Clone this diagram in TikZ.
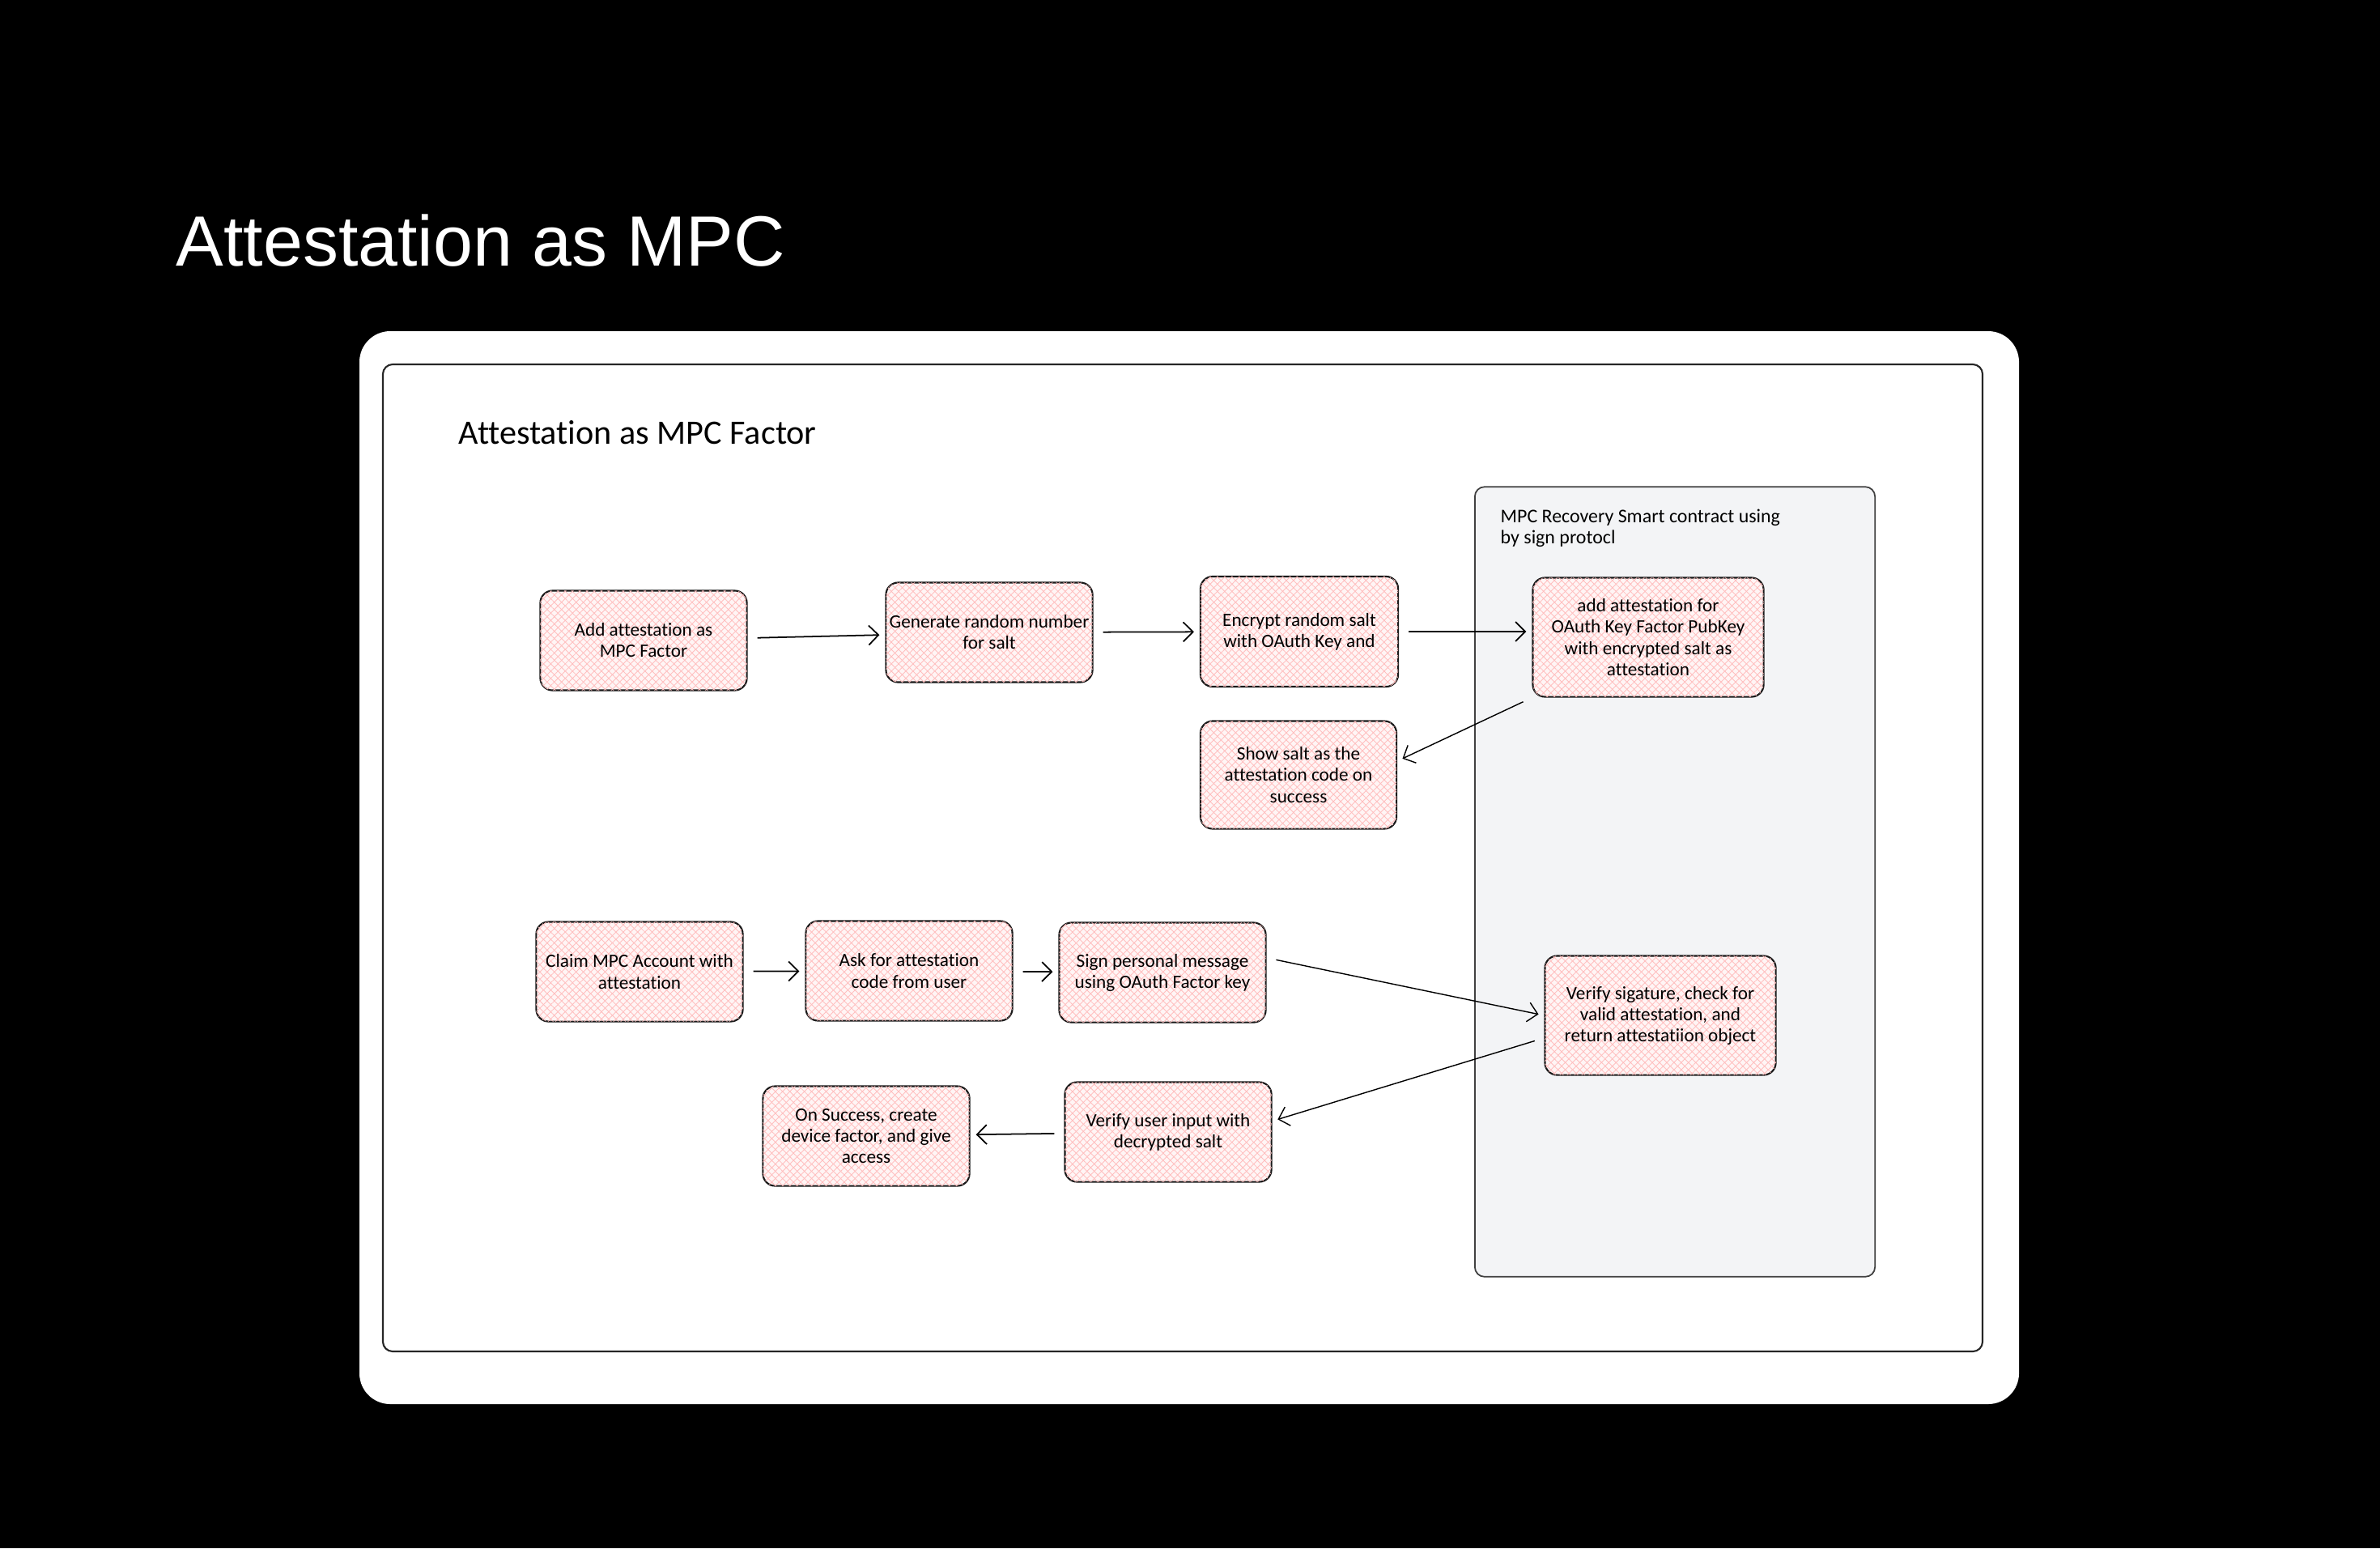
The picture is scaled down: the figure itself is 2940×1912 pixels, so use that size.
\documentclass[tikz,border=0pt]{standalone}
\usepackage{fontspec}
\setmainfont[Ligatures=NoCommon]{Carlito}
\newfontfamily\titlefont{Liberation Sans}
\usetikzlibrary{positioning,arrows.meta,patterns.meta}

\begin{document}
\begin{tikzpicture}[
        x=0.01cm, y=-0.01cm,
        stepbox/.style={rectangle, draw=black!90, line width=0.6pt, rounded corners=0.15cm,
            fill={rgb,255:red,255;green,245;blue,245},
            postaction={pattern={Lines[angle=45,distance=1.8pt,line width=0.25pt]}, pattern color=red!25},
            postaction={pattern={Lines[angle=-45,distance=1.8pt,line width=0.25pt]}, pattern color=red!25},
            minimum width=2.55cm, minimum height=1.23cm, inner sep=1pt, align=center,
            font=\fontsize{6.6}{7.4}\selectfont},
        chainbox/.style={stepbox, minimum width=2.85cm, minimum height=1.47cm},
        panel/.style={rectangle, draw=black!75, line width=0.5pt, rounded corners=0.12cm, fill={rgb,255:red,243;green,244;blue,246}},
        arrow/.style={-{Straight Barb[length=0.12cm,width=0.24cm]}, line width=0.5pt, shorten <=0.12cm, shorten >=0.07cm},
        thinarrow/.style={arrow, line width=0.4pt}
    ]

    % background, card and frame
    \fill[black] (0,0) rectangle (2940,1912);
    \fill[white, rounded corners=0.38cm] (444,409) rectangle (2494,1734);
    \draw[black!85, line width=0.6pt, rounded corners=0.12cm] (473,450) rectangle (2449,1669);

    \node[anchor=base west, inner sep=0, text=white, font=\titlefont\fontsize{25}{30}\selectfont] (title) at (217,328) {Attestation as MPC};
    \node[anchor=base west, inner sep=0, font=\fontsize{12}{14}\selectfont] (subtitle) at (566,548) {Attestation as MPC Factor};

    % smart contract lane
    \node[panel, minimum width=4.94cm, minimum height=9.75cm] (contract) at (2069,1089) {};
    \node[anchor=north west, inner sep=0, align=left, font=\fontsize{6.8}{7.6}\selectfont] (contractlbl) at (1853,628) {MPC Recovery Smart contract using\\by sign protocl};

    % Define nodes - attestation row
    \node[stepbox] (addatt) at (795,791) {Add attestation as\\MPC Factor};
    \node[stepbox] (genrand) at (1222,781) {Generate random number\\for salt};
    \node[stepbox, minimum width=2.44cm, minimum height=1.36cm] (encrypt) at (1605,780) {Encrypt random salt\\with OAuth Key and};
    \node[chainbox] (addpub) at (2036,787) {add attestation for\\OAuth Key Factor PubKey\\with encrypted salt as\\attestation};
    \node[stepbox, minimum width=2.42cm, minimum height=1.33cm] (showsalt) at (1604,957) {Show salt as the\\attestation code on\\success};

    % Claim row
    \node[stepbox] (claim) at (790,1200) {Claim MPC Account with\\attestation};
    \node[stepbox] (askcode) at (1123,1199) {Ask for attestation\\code from user};
    \node[stepbox] (signmsg) at (1436,1201) {Sign personal message\\using OAuth Factor key};
    \node[chainbox] (verifysig) at (2051,1254) {Verify sigature, check for\\valid attestation, and\\return attestatiion object};
    \node[stepbox] (verifyin) at (1443,1398) {Verify user input with\\decrypted salt};
    \node[stepbox] (success) at (1070,1403) {On Success, create\\device factor, and give\\access};

    % Define connections
    \draw[arrow] (addatt) -- (genrand);
    \draw[arrow] (genrand) -- (encrypt);
    \draw[arrow] (encrypt.east) -- (encrypt.east -| addpub.west);
    \draw[thinarrow] (addpub.south west) -- (showsalt.8);

    \draw[arrow] (claim) -- (askcode);
    \draw[arrow] (askcode) -- (signmsg);
    \draw[thinarrow] (signmsg.8) -- (verifysig.west);
    \draw[thinarrow] (verifysig.191) -- (verifyin.6);
    \draw[arrow] (verifyin) -- (success);

\end{tikzpicture}
\end{document}
